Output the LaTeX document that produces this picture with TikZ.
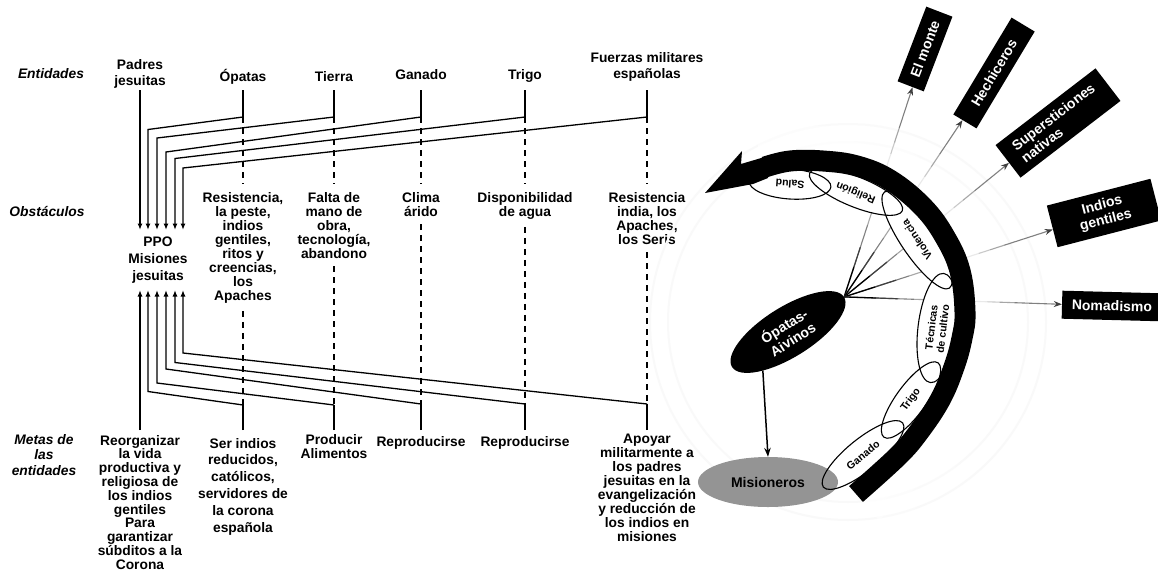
\documentclass[tikz,border=0pt]{standalone}
\usepackage{fontspec}
\setmainfont{Liberation Sans}
\usetikzlibrary{arrows.meta,shapes.geometric,calc}

\begin{document}
\begin{tikzpicture}[x=1pt,y=-1pt,
  lbl/.style={inner sep=0pt, outer sep=0pt, align=center,
    font=\fontsize{13.8}{14}\selectfont\bfseries},
  ent/.style={lbl, font=\fontsize{13.8}{16.5}\selectfont\bfseries},
  obs/.style={lbl, anchor=north, outer ysep=8pt},
  goal/.style={lbl, anchor=north},
  rowlab/.style={lbl, font=\fontsize{13.8}{15.5}\selectfont\bfseries\itshape},
  link/.style={line width=1.3pt, line join=miter},
  dlink/.style={line width=1.3pt, dash pattern=on 6pt off 5pt},
  arrowend/.style={-{Latex[length=6.5pt,width=5pt]}},
  dbox/.style={fill=black, text=white, inner sep=0pt, align=center,
    font=\fontsize{14}{15.5}\selectfont\bfseries},
  ray/.style={draw=black!50, line width=1.1pt,
    -{Stealth[length=8pt,width=6pt,color=black!75]}},
  pill/.style={ellipse, inner sep=0pt, align=center,
    font=\fontsize{10.5}{11.5}\selectfont\bfseries},
  pillfill/.style={pill, fill=white},
  pillline/.style={pill, draw=black, line width=1.1pt},
]
\useasboundingbox (0,0) rectangle (1158,573);
\fill[white] (0,0) rectangle (1158,573);

% ---------------- left: entities, obstacles and goals ----------------
\node[rowlab, anchor=base] (lab1) at (51,78) {Entidades};
\node[rowlab, anchor=base] (lab2) at (47,216) {Obstáculos};
\node[rowlab, anchor=north] (lab3) at (44,434) {Metas de\\las\\entidades};

\node[ent, anchor=north] (e1) at (140,59) {Padres\\jesuitas};
\node[ent, anchor=base] (e2) at (243,81) {Ópatas};
\node[ent, anchor=base] (e3) at (334,81) {Tierra};
\node[ent, anchor=base] (e4) at (421,79) {Ganado};
\node[ent, anchor=base] (e5) at (525,79) {Trigo};
\node[ent, anchor=north] (e6) at (647,52) {Fuerzas militares\\españolas};

\node[obs] (o2) at (243,184) {Resistencia,\\la peste,\\indios\\gentiles,\\ritos y\\creencias,\\los\\Apaches};
\node[obs] (o3) at (334,184) {Falta de\\mano de\\obra,\\tecnología,\\abandono};
\node[obs] (o4) at (421,184) {Clima\\árido};
\node[obs] (o5) at (525,184) {Disponibilidad\\de agua};
\node[obs] (o6) at (647,184) {Resistencia\\india, los\\Apaches,\\los Seris};

\node[lbl, anchor=north, font=\fontsize{13.8}{17}\selectfont\bfseries] (ppo) at (158,237) {PPO\\Misiones\\jesuitas};

\node[goal, font=\fontsize{13.8}{13.8}\selectfont\bfseries] (g1) at (140,435) {Reorganizar\\la vida\\productiva y\\religiosa de\\los indios\\gentiles\\Para\\garantizar\\súbditos a la\\Corona};
\node[goal, font=\fontsize{13.8}{16.8}\selectfont\bfseries] (g2) at (243,438) {Ser indios\\reducidos,\\católicos,\\servidores de\\la corona\\española};
\node[goal] (g3) at (334,434) {Producir\\Alimentos};
\node[goal] (g4) at (421,436) {Reproducirse};
\node[goal] (g5) at (525,436) {Reproducirse};
\node[goal] (g6) at (647,434) {Apoyar\\militarmente a\\los padres\\jesuitas en la\\evangelización\\y reducción de\\los indios en\\misiones};

% reference levels
\coordinate (entline) at (0,90);
\coordinate (goalline) at (0,430);
% junctions on the entity and goal columns
\coordinate (jt2) at (243,117); \coordinate (jb2) at (243,405);
\coordinate (jt3) at (334,117); \coordinate (jb3) at (334,405);
\coordinate (jt4) at (421,117); \coordinate (jb4) at (421,404);
\coordinate (jt5) at (525,117); \coordinate (jb5) at (525,404);
\coordinate (jt6) at (647,117); \coordinate (jb6) at (647,404);
% bends of the feeders
\coordinate (bt2) at (148,129.5); \coordinate (bb2) at (148,391.5);
\coordinate (bt3) at (157,138);   \coordinate (bb3) at (157,383);
\coordinate (bt4) at (166,152);   \coordinate (bb4) at (166,369);
\coordinate (bt5) at (175,158.5); \coordinate (bb5) at (175,362.5);
\coordinate (bt6) at (183,168);   \coordinate (bb6) at (183,353);
% arrow tips above and below the PPO
\coordinate (at1) at (140,230); \coordinate (ab1) at (140,290);
\coordinate (at2) at (148,230); \coordinate (ab2) at (148,290);
\coordinate (at3) at (157,230); \coordinate (ab3) at (157,290);
\coordinate (at4) at (166,230); \coordinate (ab4) at (166,290);
\coordinate (at5) at (175,230); \coordinate (ab5) at (175,290);
\coordinate (at6) at (183,230); \coordinate (ab6) at (183,290);

\draw[link, arrowend] (e1 |- entline) -- (at1);
\draw[link, arrowend] (g1 |- goalline) -- (ab1);
\foreach \i in {2,...,6}{
  \draw[link] (e\i |- entline) -- (jt\i);
  \draw[link, arrowend] (jt\i) -- (bt\i) -- (at\i);
  \draw[dlink] (jt\i) -- (o\i.north);
  \draw[dlink] (o\i.south) -- (jb\i);
  \draw[link] (g\i |- goalline) -- (jb\i);
  \draw[link, arrowend] (jb\i) -- (bb\i) -- (ab\i);
}

% ---------------- right: the Ópatas-Aivinos cycle ----------------
\foreach \r in {180,198}
  \draw[black!2.5, line width=2pt] (848,322) circle[radius=\r];

\node[dbox, minimum width=80pt, minimum height=28pt, rotate=69] (monte) at (925,49) {El monte};
\node[dbox, minimum width=113pt, minimum height=27pt, rotate=59] (hech) at (994,73) {Hechiceros};
\node[dbox, minimum width=126pt, minimum height=41pt, rotate=37.5, align=left] (sup) at (1058,123) {Supersticiones\\nativas};
\node[dbox, minimum width=107pt, minimum height=43pt, rotate=14.5] (ind) at (1104,213) {Indios\\gentiles};
\node[dbox, minimum width=100pt, minimum height=28pt, rotate=-1.5] (nom) at (1112,306) {Nomadismo};

\node[ellipse, fill=black, text=white, minimum width=132pt, minimum height=50pt,
  inner sep=0pt, rotate=32, align=center,
  font=\fontsize{14}{16}\selectfont\bfseries] (op) at (788,332) {Ópatas-\\Aivinos};

% rays from the Ópatas to the boxes, dark at their root
\foreach \b in {monte,hech,sup,ind,nom}{
  \draw[ray] (op.east) -- (\b);
  \draw[black, line width=1.3pt] (op.east) -- ($(op.east)!0.12!(\b)$);
  \draw[black!75, line width=1.2pt] ($(op.east)!0.12!(\b)$) -- ($(op.east)!0.2!(\b)$);
}

% the curved band
\def\bandcurve{plot[smooth, tension=0.65] coordinates {(856,494) (897,457) (918,433)
  (940,400) (954,367) (962,338) (965,312) (960,271) (945,237) (923,207) (890,180)
  (857,166) (823,161) (790,161) (765,167)}}
\draw[white, opacity=0.3, line width=100pt] \bandcurve;
\draw[white, opacity=0.4, line width=70pt] \bandcurve;
\draw[white, opacity=0.6, line width=46pt] \bandcurve;

% ellipses along the inner side of the band
\node[pillfill, minimum width=82pt,  minimum height=30pt, rotate=176] (salud)  at (790,184) {Salud};
\node[pillfill, minimum width=100pt, minimum height=30pt, rotate=158] (relig)  at (856,192) {Religión};
\node[pillfill, minimum width=116pt, minimum height=32pt, rotate=124] (viol)   at (917,240) {Violencia};
\node[pillfill, minimum width=110pt, minimum height=38pt, rotate=83]  (tecn)   at (937,328) {Técnicas\\de cultivo};
\node[pillfill, minimum width=92pt,  minimum height=30pt, rotate=54]  (trigo)  at (911,400) {Trigo};
\node[pillfill, minimum width=102pt, minimum height=32pt, rotate=39]  (ganado) at (863,455) {Ganado};

\node[ellipse, fill=black!42, minimum width=140pt, minimum height=50pt, inner sep=0pt,
  font=\fontsize{14}{16}\selectfont\bfseries] (mis) at (768,482) {Misioneros};

\node[pillline, minimum width=82pt,  minimum height=30pt, rotate=176] (salud-o)  at (salud)  {};
\node[pillline, minimum width=100pt, minimum height=30pt, rotate=158] (relig-o)  at (relig)  {};
\node[pillline, minimum width=116pt, minimum height=32pt, rotate=124] (viol-o)   at (viol)   {};
\node[pillline, minimum width=110pt, minimum height=38pt, rotate=83]  (tecn-o)   at (tecn)   {};
\node[pillline, minimum width=92pt,  minimum height=30pt, rotate=54]  (trigo-o)  at (trigo)  {};
\node[pillline, minimum width=102pt, minimum height=32pt, rotate=39]  (ganado-o) at (ganado) {};

\draw[line width=21pt, line cap=butt] \bandcurve;
\fill (705,193) -- (742,151) -- (741,164) -- (768,156) -- (768,178) -- (753,184) -- cycle;

\draw[line width=1.5pt, -{Stealth[length=9pt,width=6.5pt]}] (op.205) -- (mis.north);

\end{tikzpicture}
\end{document}
